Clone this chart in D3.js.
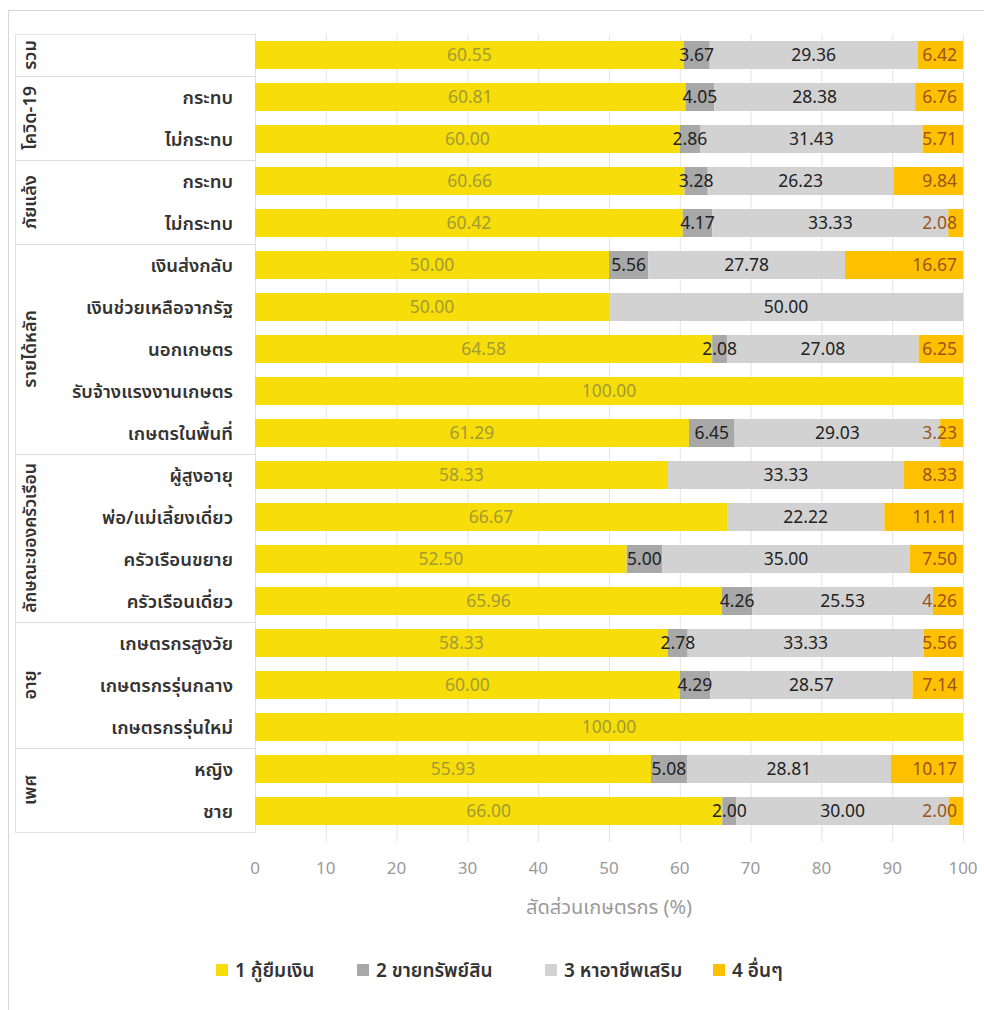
<!DOCTYPE html>
<html><head><meta charset="utf-8">
<script src="https://cdn.jsdelivr.net/npm/d3@7"></script>
<style>
body{margin:0;background:#fff;}
svg{display:block;font-family:"Noto Sans Thai","Leelawadee UI",Tahoma,"Noto Sans",sans-serif;}
</style></head>
<body><svg id="c" width="984" height="1010"></svg>
<script>
const groups = ["รวม","โควิด-19","ภัยแล้ง","รายได้หลัก","ลักษณะของครัวเรือน","อายุ","เพศ"];
const groupSizes = [1,2,2,5,4,3,2];
const categories = ["","กระทบ","ไม่กระทบ","กระทบ","ไม่กระทบ","เงินส่งกลับ","เงินช่วยเหลือจากรัฐ","นอกเกษตร","รับจ้างแรงงานเกษตร","เกษตรในพื้นที่","ผู้สูงอายุ","พ่อ/แม่เลี้ยงเดี่ยว","ครัวเรือนขยาย","ครัวเรือนเดี่ยว","เกษตรกรสูงวัย","เกษตรกรรุ่นกลาง","เกษตรกรรุ่นใหม่","หญิง","ชาย"];
const seriesNames = ["1 กู้ยืมเงิน","2 ขายทรัพย์สิน","3 หาอาชีพเสริม","4 อื่นๆ"];
const s1 = [60.55,60.81,60.00,60.66,60.42,50.00,50.00,64.58,100.00,61.29,58.33,66.67,52.50,65.96,58.33,60.00,100.00,55.93,66.00];
const s2 = [3.67,4.05,2.86,3.28,4.17,5.56,0,2.08,0,6.45,0,0,5.00,4.26,2.78,4.29,0,5.08,2.00];
const s3 = [29.36,28.38,31.43,26.23,33.33,27.78,50.00,27.08,0,29.03,33.33,22.22,35.00,25.53,33.33,28.57,0,28.81,30.00];
const s4 = [6.42,6.76,5.71,9.84,2.08,16.67,0,6.25,0,3.23,8.33,11.11,7.50,4.26,5.56,7.14,0,10.17,2.00];
const xTicks = [0,10,20,30,40,50,60,70,80,90,100];
const xTitle = "สัดส่วนเกษตรกร (%)";

const colors = ["#F7DD0A","#A8A8A8","#D2D2D2","#FFC000"];
const labelColors = ["#A39B35","#222222","#222222","#9A5520"];

const svg = d3.select("#c");
// outer frame
svg.append("rect").attr("x",8.5).attr("y",10.5).attr("width",990).attr("height",1010).attr("fill","none").attr("stroke","#d6d6d6");

const x = d3.scaleLinear().domain([0,100]).range([255,963]);
const idx = d3.range(categories.length);
const y = d3.scaleBand().domain(idx).range([34,832]).paddingInner(0.333).paddingOuter(0.1665);

// gridlines
svg.append("g").selectAll("line").data(xTicks.slice(1)).join("line")
  .attr("x1",d=>x(d)+0.5).attr("x2",d=>x(d)+0.5).attr("y1",34).attr("y2",842)
  .attr("stroke","#e4e4e4").attr("stroke-width",1);

// table panel
const panel = svg.append("g");
panel.append("rect").attr("x",15.5).attr("y",34.5).attr("width",240).attr("height",798)
  .attr("fill","#fff").attr("stroke","#e2e2e2");
let start = 0;
const step = y.step();
groups.forEach((g,gi)=>{
  const n = groupSizes[gi];
  const y0 = 34 + start*step, y1 = 34 + (start+n)*step;
  if (gi>0) panel.append("line").attr("x1",15).attr("x2",255).attr("y1",Math.round(y0)+0.5).attr("y2",Math.round(y0)+0.5).attr("stroke","#dcdcdc");
  const fs = g.length > 12 ? 17.5 : 18;
  panel.append("text").attr("transform",`translate(36,${(y0+y1)/2}) rotate(-90)`)
    .attr("text-anchor","middle").attr("font-size",fs).attr("font-weight",600).attr("fill","#333")
    .text(g);
  start += n;
});
panel.append("g").selectAll("text").data(idx).join("text")
  .attr("x",233).attr("y",i=>y(i)+y.bandwidth()/2).attr("dy","0.36em")
  .attr("text-anchor","end").attr("font-size",18.5).attr("font-weight",600).attr("fill","#333")
  .text(i=>categories[i]);

// stacked data
const rows = idx.map(i=>({i, v:[s1[i],s2[i],s3[i],s4[i]]}));
const stack = d3.stack().keys([0,1,2,3]).value((d,k)=>d.v[k]);
const layers = stack(rows);

const bars = svg.append("g");
layers.forEach((layer,k)=>{
  bars.append("g").selectAll("rect").data(layer.filter(d=>d[1]-d[0]>0)).join("rect")
    .attr("x",d=>x(d[0])).attr("width",d=>x(d[1])-x(d[0]))
    .attr("y",d=>y(d.data.i)).attr("height",y.bandwidth())
    .attr("fill",colors[k]);
});
layers.forEach((layer,k)=>{
  bars.append("g").selectAll("text").data(layer.filter(d=>d[1]-d[0]>0)).join("text")
    .attr("x",d=> k===3 ? x(d[1])-6 : (x(d[0])+x(d[1]))/2)
    .attr("text-anchor",k===3?"end":"middle")
    .attr("y",d=>y(d.data.i)+y.bandwidth()/2).attr("dy","0.36em")
    .attr("font-size",17.5).attr("fill",labelColors[k])
    .text(d=>(d[1]-d[0]).toFixed(2));
});

// x axis labels
svg.append("g").selectAll("text").data(xTicks).join("text")
  .attr("x",d=>x(d)).attr("y",868).attr("dy","0.36em").attr("text-anchor","middle")
  .attr("font-size",17).attr("fill","#9a9a9a").text(d=>d);
svg.append("text").attr("x",609).attr("y",907).attr("dy","0.36em").attr("text-anchor","middle")
  .attr("font-size",20).attr("fill","#9a9a9a").text(xTitle);

// legend
const legX = [216,357,545,713];
const leg = svg.append("g");
seriesNames.forEach((s,k)=>{
  leg.append("rect").attr("x",legX[k]).attr("y",964).attr("width",12).attr("height",12).attr("fill",colors[k]);
  leg.append("text").attr("x",legX[k]+19).attr("y",970).attr("dy","0.36em").attr("font-size",19)
    .attr("font-weight",600).attr("fill","#333").text(s);
});
</script></body></html>
